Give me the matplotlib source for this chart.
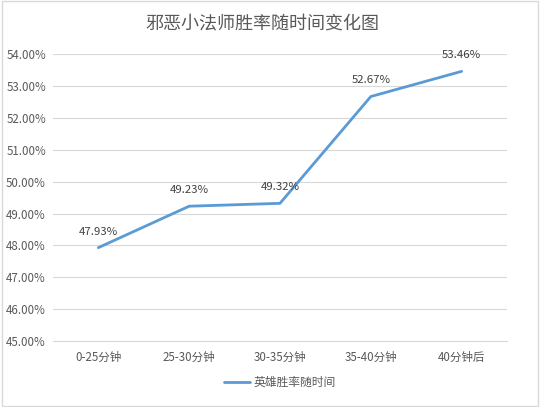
import matplotlib
matplotlib.use('Agg')
import matplotlib.pyplot as plt
import numpy as np

plt.rcParams['font.family'] = ['Noto Sans CJK SC', 'DejaVu Sans']

categories = ['0-25分钟', '25-30分钟', '30-35分钟', '35-40分钟', '40分钟后']
win_rate = [47.93, 49.23, 49.32, 52.67, 53.46]
series_name = '英雄胜率随时间'
title = '邪恶小法师胜率随时间变化图'

txt = '#595959'
blue = '#5B9BD5'

fig = plt.figure(figsize=(5.4, 4.07), dpi=100)
ax = fig.add_axes([0.098, 0.162, 0.841, 0.705])

x = np.arange(len(categories))
ax.plot(x, win_rate, color=blue, lw=2.0, solid_capstyle='round', label=series_name, zorder=3)
for xi, v in zip(x, win_rate):
    ax.annotate(f'{v:.2f}%', (xi, v), xytext=(0, 8), textcoords='offset points',
                ha='center', va='bottom', fontsize=8.2, color='#404040')

ax.set_xlim(-0.5, len(categories) - 0.5)
ax.set_ylim(45, 54)
ax.set_yticks(np.arange(45, 54.01, 1))
ax.set_yticklabels([f'{t:.2f}%' for t in np.arange(45, 54.01, 1)])
ax.set_xticks(x)
ax.set_xticklabels(categories)
ax.tick_params(length=0, labelsize=8.3, colors=txt)
ax.tick_params(axis='y', pad=5)
ax.tick_params(axis='x', pad=7)
ax.grid(axis='y', color='#D9D9D9', lw=0.8)
for s in ax.spines.values():
    s.set_visible(False)
ax.spines['bottom'].set_visible(True)
ax.spines['bottom'].set_color('#D9D9D9')

fig.suptitle(title, x=0.487, y=0.962, fontsize=13, color=txt)
ax.legend(loc='upper center', bbox_to_anchor=(0.5, -0.085), frameon=False,
          fontsize=8.5, labelcolor=txt, handlelength=2.2, handletextpad=0.3)

fig.patches.append(plt.Rectangle((0.003, 0.003), 0.994, 0.994, transform=fig.transFigure,
                                 fill=False, edgecolor='#D9D9D9', lw=1))
fig.savefig('out.png', dpi=100)
